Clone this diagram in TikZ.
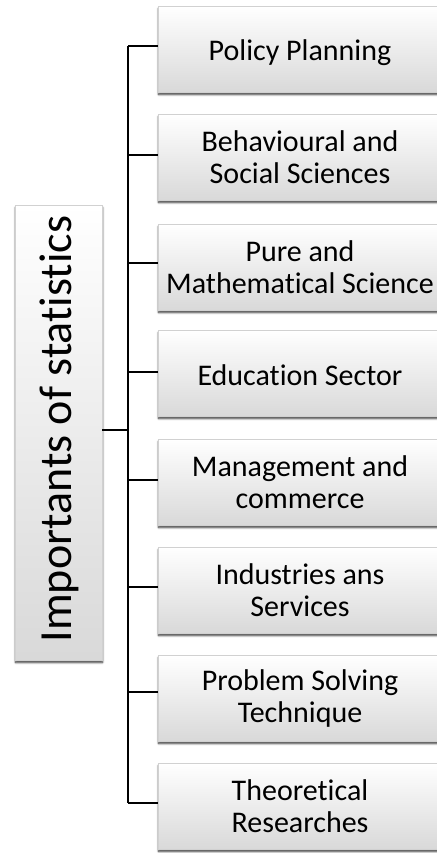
\documentclass[tikz,border=0pt]{standalone}
\usepackage{fontspec}
\setmainfont{Carlito}[Ligatures=CommonOff]
\usetikzlibrary{shadows.blur}
% lower a single-line label without changing the box it sits in
\newcommand{\lowered}[2]{\raisebox{-#1}[\height][\depth]{#2}}
\begin{document}
\begin{tikzpicture}[x=1pt,y=1pt,
  panel/.style={draw=black!18, line width=0.6pt,
    top color=white, bottom color=black!15,
    blur shadow={shadow xshift=0.5pt, shadow yshift=-2.5pt,
      shadow blur steps=6, shadow blur radius=2pt, shadow opacity=80}},
  item/.style={panel, minimum width=284pt, minimum height=86pt,
    inner sep=0pt, align=center, text=black,
    font=\fontsize{30}{32}\selectfont},
  link/.style={draw=black, line width=1.2pt}
]
\useasboundingbox (0,0) rectangle (436,-853);

% root panel on the left
\node[panel, minimum width=87pt, minimum height=455pt, inner sep=0pt]
  (root) at (58.5,-432.5) {};
\node[rotate=90, text=black, font=\fontsize{46}{50}\selectfont]
  (roottext) at (59,-429) {Importants of statistics};

% branch panels
\node[item] (i1) at (300,-49)  {\lowered{4pt}{Policy Planning}};
\node[item] (i2) at (300,-157) {Behavioural and\\Social Sciences};
\node[item] (i3) at (300,-267) {Pure and\\Mathematical Science};
\node[item] (i4) at (300,-373) {\lowered{2pt}{Education Sector}};
\node[item] (i5) at (300,-482) {Management and\\commerce};
\node[item] (i6) at (300,-590) {Industries ans\\Services};
\node[item] (i7) at (300,-698) {Problem Solving\\Technique};
\node[item] (i8) at (300,-806) {Theoretical\\Researches};

% connector tree
\coordinate (trunk) at (128,-430);
\draw[link, line width=2pt] (root.east |- trunk) -- (trunk);
\draw[link] (128,-46) coordinate (ttop) -- (128,-803) coordinate (tbot);
\foreach \i/\y in {1/-46,2/-155,3/-263,4/-372,5/-480,6/-587,7/-692,8/-803}{
  \draw[link] (128,\y) -- (i\i.west |- 0,\y);
}
\end{tikzpicture}
\end{document}
